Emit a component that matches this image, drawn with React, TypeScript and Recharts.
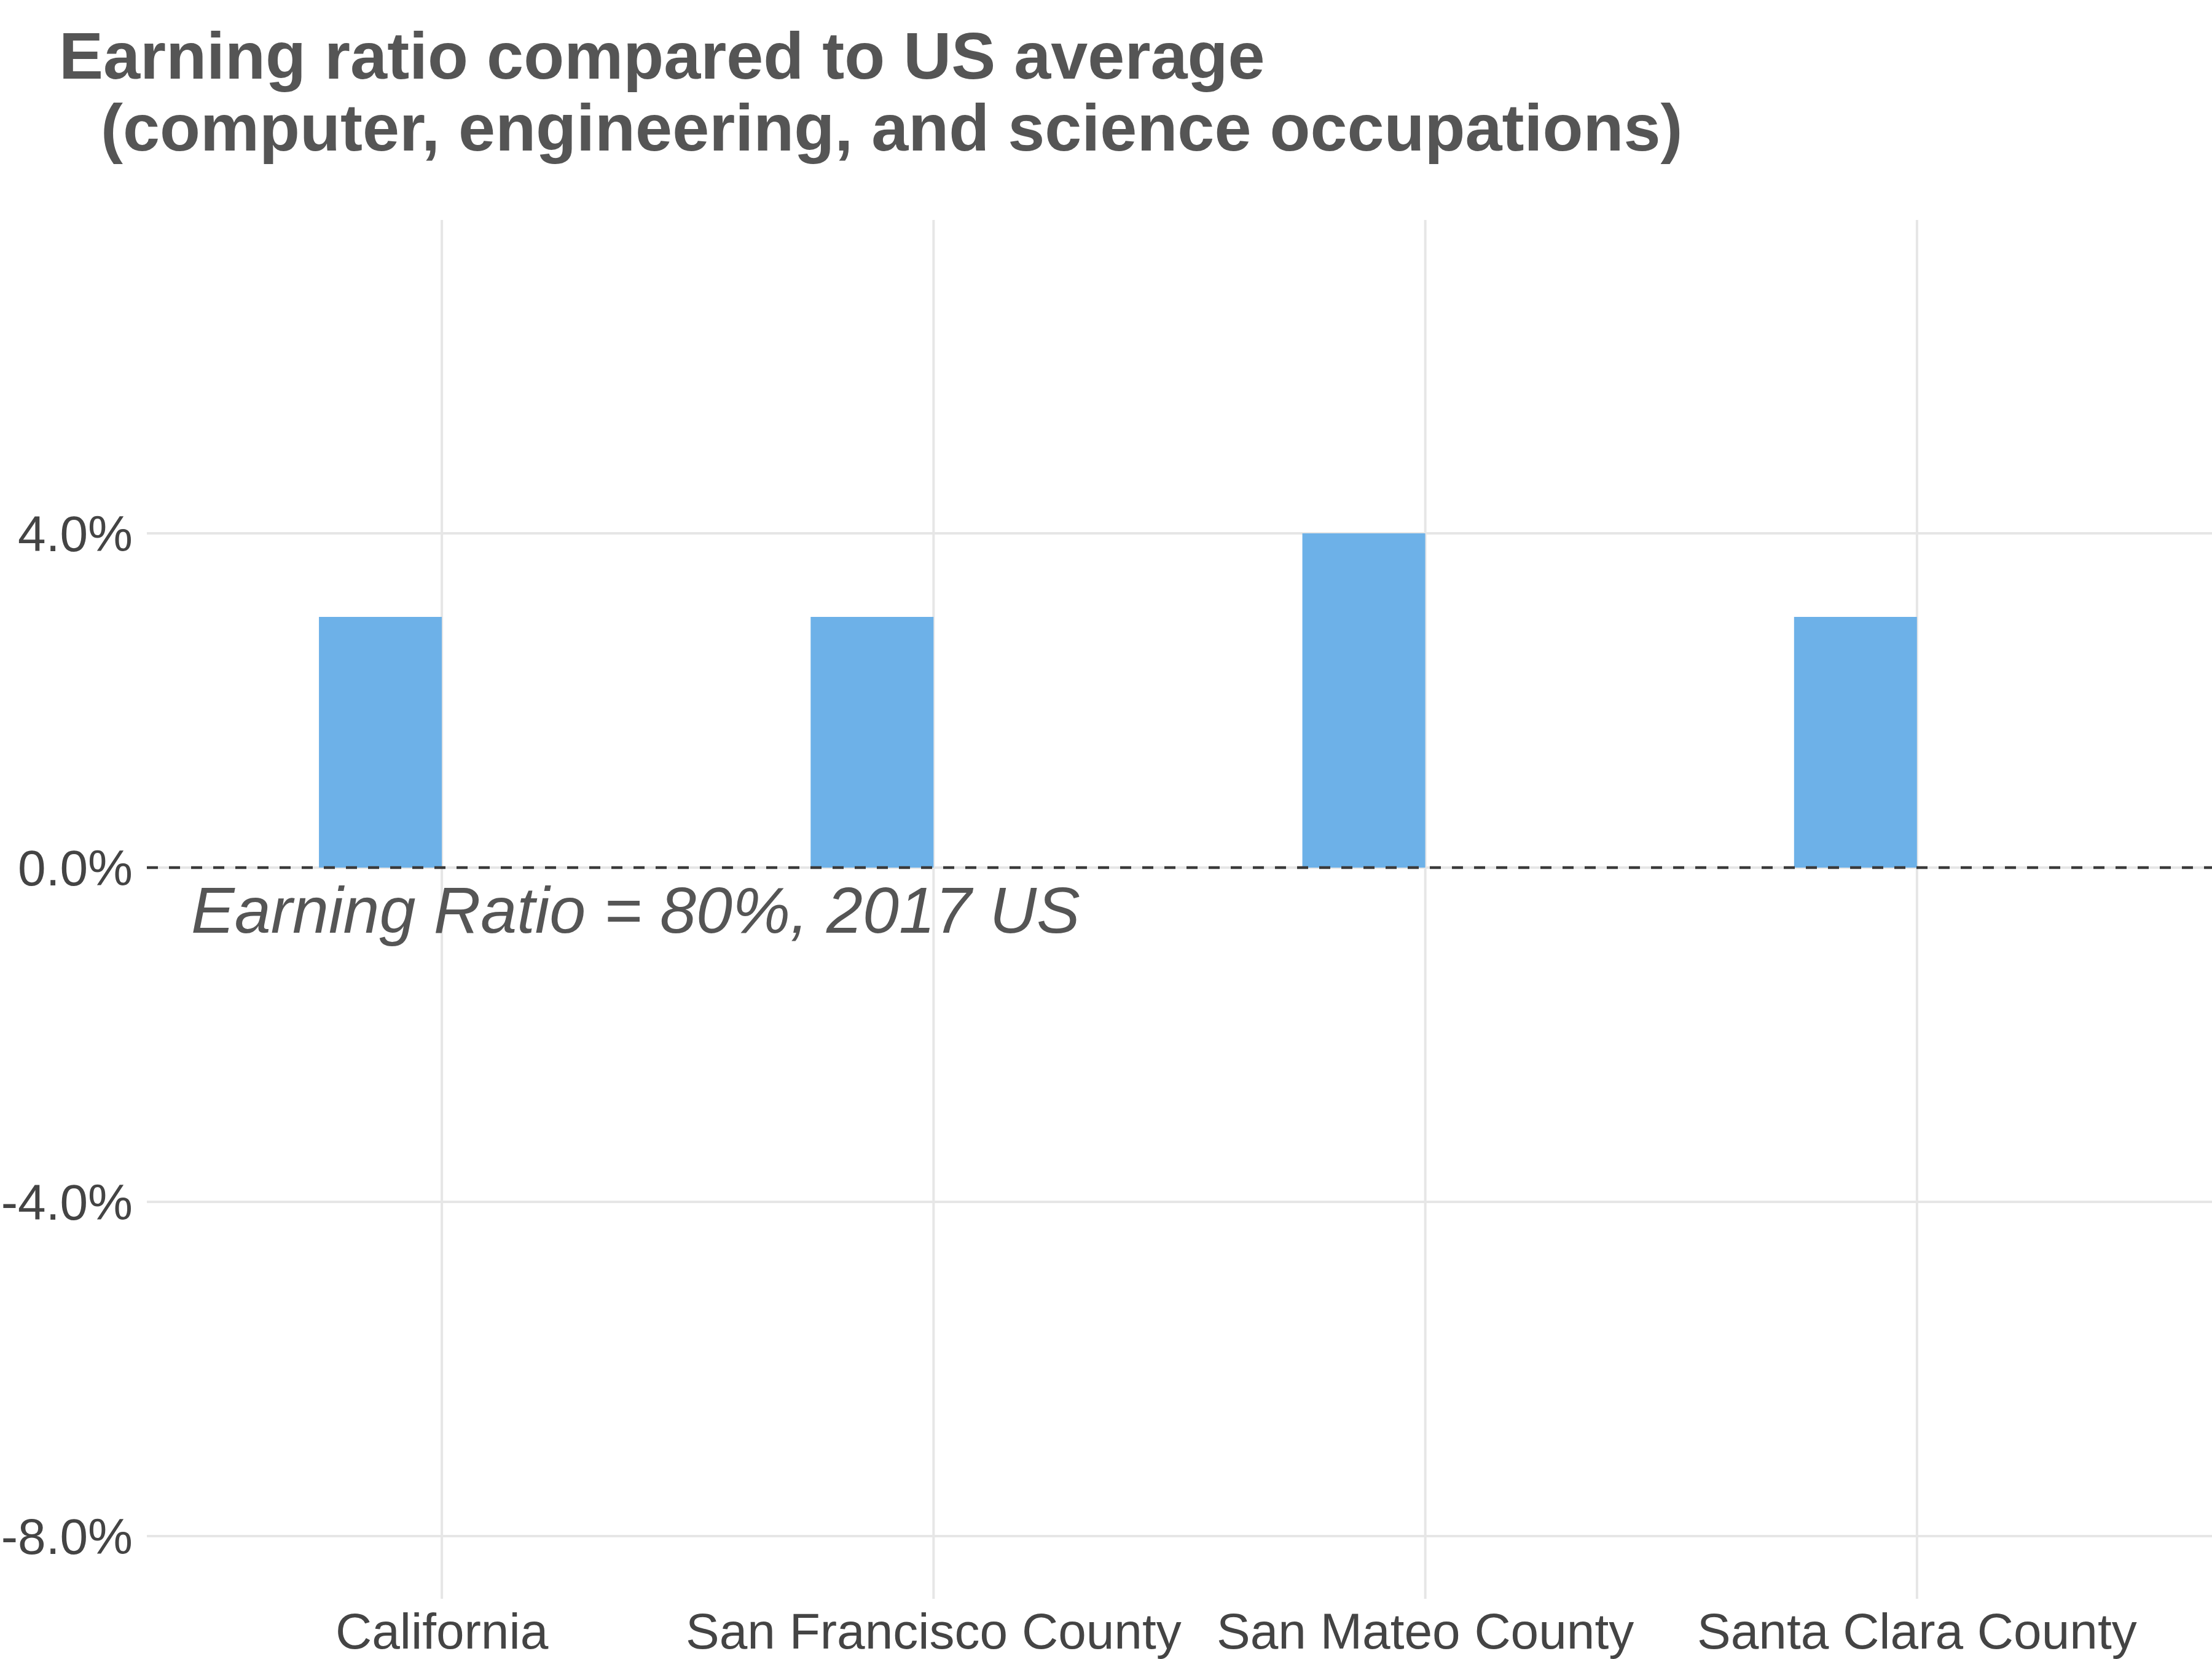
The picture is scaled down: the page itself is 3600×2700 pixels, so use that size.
import React from "react";
import { BarChart, Bar, XAxis, YAxis, CartesianGrid, ReferenceLine } from "recharts";

const categories = ["California", "San Francisco County", "San Mateo County", "Santa Clara County"];
const ratioDiff = [3, 3, 4, 3];
const yTicks = [-8, -4, 0, 4];

const FONT = '"Liberation Sans", Arial, Helvetica, sans-serif';

const data = categories.map((name, i) => ({ name, diff: ratioDiff[i], spacer: null }));

function RatioLabel(props: any) {
  const vb = props.viewBox || { x: 0, y: 0 };
  return (
    <text
      x={vb.x + 72}
      y={vb.y + 106}
      fill="#555555"
      fontSize={106}
      fontStyle="italic"
      fontFamily={FONT}
    >
      Earning Ratio = 80%, 2017 US
    </text>
  );
}

export default function App() {
  return (
    <div style={{ position: "absolute", left: 0, top: 0, width: 3600, height: 2700, background: "#fff" }}>
      <svg width={3600} height={300} style={{ position: "absolute", left: 0, top: 0 }}>
        <text x={96} y={128} fill="#555555" fontSize={108} fontWeight="bold" fontFamily={FONT}>
          Earning ratio compared to US average
        </text>
        <text x={164} y={245} fill="#555555" fontSize={108} fontWeight="bold" fontFamily={FONT}>
          (computer, engineering, and science occupations)
        </text>
      </svg>
      <BarChart
        width={3600}
        height={2700}
        data={data}
        margin={{ top: 358, right: 0, bottom: 0, left: 0 }}
        barCategoryGap="25%"
        barGap={0}
      >
        {/* syncWithTicks stops the grid from adding lines on the plot edges */}
        <CartesianGrid stroke="#e6e6e6" strokeWidth={4} syncWithTicks />
        <XAxis
          dataKey="name"
          height={98}
          padding={{ left: 80, right: 80 }}
          axisLine={false}
          tickLine={false}
          tickSize={0}
          tickMargin={23}
          interval={0}
          tick={{ fill: "#444444", fontSize: 82, fontFamily: FONT }}
        />
        <YAxis
          width={239}
          domain={[-8.75, 7.75]}
          ticks={yTicks}
          allowDataOverflow
          axisLine={false}
          tickLine={false}
          tickSize={0}
          tickMargin={23}
          tickFormatter={(v: number) => v.toFixed(1) + "%"}
          tick={{ fill: "#444444", fontSize: 82, fontFamily: FONT }}
        />
        <Bar dataKey="diff" fill="#6db1e8" isAnimationActive={false} />
        <Bar dataKey="spacer" fill="#6db1e8" isAnimationActive={false} />
        <ReferenceLine
          y={0}
          stroke="#3a3a3a"
          strokeWidth={4.5}
          strokeDasharray="18 18"
          label={<RatioLabel />}
        />
      </BarChart>
    </div>
  );
}
